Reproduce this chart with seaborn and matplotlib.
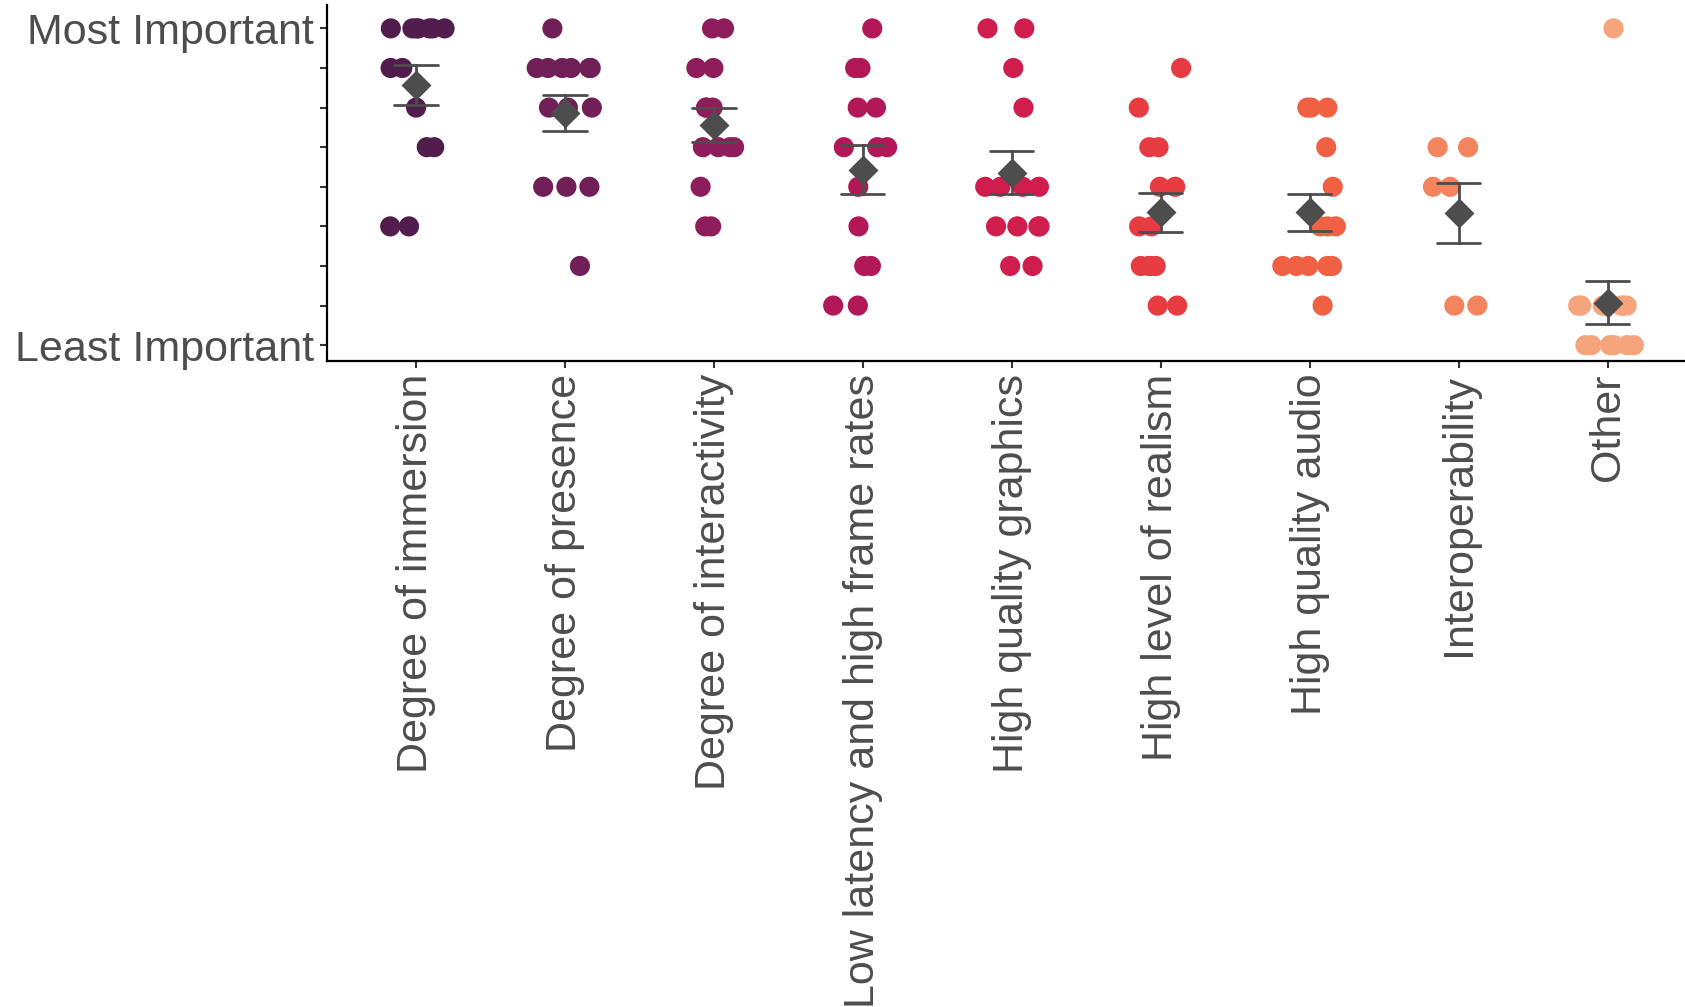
import numpy as np
import pandas as pd
import matplotlib
matplotlib.use("Agg")
import matplotlib.pyplot as plt
import seaborn as sns

# Ranking responses per feature (1 = most important, 9 = least important)
categories = [
    "Degree of immersion",
    "Degree of presence",
    "Degree of interactivity",
    "Low latency and high frame rates",
    "High quality graphics",
    "High level of realism",
    "High quality audio",
    "Interoperability",
    "Other",
]
immersion = [1, 1, 1, 1, 1, 1, 1, 2, 2, 3, 4, 4, 6, 6]
presence = [1, 2, 2, 2, 2, 2, 2, 3, 3, 3, 5, 5, 5, 7]
interactivity = [1, 1, 2, 2, 3, 3, 3, 4, 4, 4, 4, 5, 6, 6]
latency = [1, 2, 2, 3, 3, 4, 4, 4, 5, 6, 7, 7, 8, 8]
graphics = [1, 1, 2, 3, 5, 5, 5, 5, 6, 6, 6, 6, 7, 7]
realism = [2, 3, 4, 4, 5, 5, 6, 6, 7, 7, 7, 7, 8, 8]
audio = [3, 3, 3, 4, 5, 6, 6, 6, 7, 7, 7, 7, 7, 8]
interoperability = [4, 4, 5, 5, 8, 8]
other = [1, 8, 8, 8, 8, 8, 8, 8, 9, 9, 9, 9, 9, 9]

rank_ticks = [1, 2, 3, 4, 5, 6, 7, 8, 9]
rank_labels = ["Most Important", "", "", "", "", "", "", "", "Least Important"]

series = [immersion, presence, interactivity, latency, graphics,
          realism, audio, interoperability, other]
df = pd.DataFrame({
    "feature": np.repeat(categories, [len(s) for s in series]),
    "rank": np.concatenate(series),
})

sns.set_theme(style="white")
plt.rcParams["font.family"] = ["Liberation Sans", "DejaVu Sans"]

text_grey = "#4d4d4d"
palette = [matplotlib.colors.to_hex(c) for c in
           sns.color_palette("rocket", as_cmap=True)(np.linspace(0.21, 0.82, 9))]

fig = plt.figure(figsize=(16.85, 10.07), dpi=100)
ax = fig.add_axes([0.1939, 0.6415, 1 - 0.1939, 0.995 - 0.6415])

np.random.seed(7)
sns.stripplot(data=df, x="feature", y="rank", hue="feature", order=categories,
              hue_order=categories, palette=palette, jitter=0.2, size=14.5,
              linewidth=0, legend=False, ax=ax, zorder=2)

sns.pointplot(data=df, x="feature", y="rank", order=categories,
              errorbar="se", markers="D", linestyles="none", color=text_grey,
              capsize=0.29, markersize=13, err_kws={"linewidth": 2.0},
              ax=ax)
for line in ax.lines:
    line.set_zorder(5)

ax.set_xlim(-0.6, 8.52)
ax.set_ylim(9.40, 0.41)
ax.set_yticks(rank_ticks)
ax.set_yticklabels(rank_labels)
ax.set_xlabel("")
ax.set_ylabel("")

for lab in ax.get_xticklabels():
    lab.set_rotation(90)
    lab.set_ha("center")
    lab.set_va("top")

ax.tick_params(axis="both", which="both", length=5, width=1.5,
               color="#333333", labelsize=31, labelcolor=text_grey,
               left=True, bottom=True, pad=4)

for side in ["top", "right"]:
    ax.spines[side].set_visible(False)
for side in ["left", "bottom"]:
    ax.spines[side].set_color("black")
    ax.spines[side].set_linewidth(1.6)

fig.savefig("out.png", dpi=100)
